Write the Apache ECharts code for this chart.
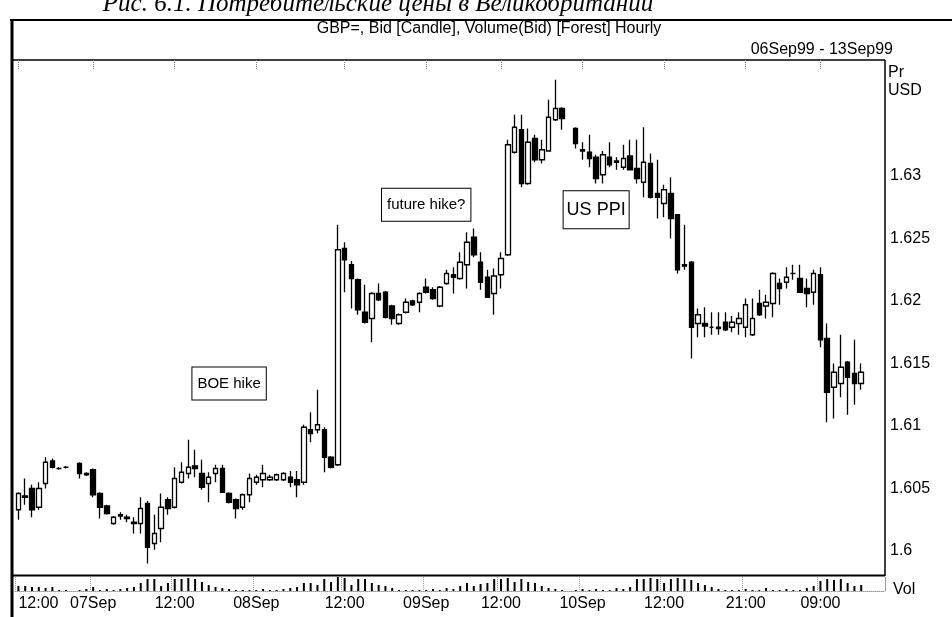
<!DOCTYPE html>
<html>
<head>
<meta charset="utf-8">
<script src="https://cdn.jsdelivr.net/npm/echarts@6/dist/echarts.min.js"></script>
<style>
  html, body { margin: 0; padding: 0; background: #fff; }
  #chart { width: 952px; height: 617px; }
</style>
</head>
<body>
<div id="chart"></div>
<script>
// hourly slots, 06Sep99 13:00 .. 13Sep99 (plus a few empty slots on the right)
var slots = [];
for (var i = 0; i < 128; i++) slots.push(String(i));

var tickIndex  = [0, 11, 23, 35, 48, 60, 71, 83, 95, 107, 118];
var tickLabels = ['12:00', '07Sep', '12:00', '08Sep', '12:00', '09Sep', '12:00', '10Sep', '12:00', '21:00', '09:00'];

// [open, close, low, high]
var ohlc = [
  [1.6033, 1.6046, 1.6025, 1.6047], [1.6043, 1.6044, 1.6037, 1.6058], [1.6050, 1.6033, 1.6027, 1.6053],
  [1.6035, 1.6050, 1.6033, 1.6055], [1.6054, 1.6071, 1.6050, 1.6075], [1.6072, 1.6067, 1.6066, 1.6074],
  [1.6066, 1.6066, 1.6065, 1.6067], [1.6067, 1.6067, 1.6066, 1.6068], '-',
  [1.6070, 1.6062, 1.6058, 1.6071], [1.6062, 1.6061, 1.6060, 1.6063], [1.6065, 1.6045, 1.6043, 1.6066],
  [1.6046, 1.6035, 1.6026, 1.6047], [1.6036, 1.6030, 1.6029, 1.6037], [1.6022, 1.6027, 1.6021, 1.6028],
  [1.6028, 1.6029, 1.6025, 1.6031], [1.6027, 1.6026, 1.6023, 1.6029], [1.6022, 1.6023, 1.6014, 1.6027],
  [1.6022, 1.6034, 1.6014, 1.6043], [1.6038, 1.6003, 1.5990, 1.6040], [1.6006, 1.6014, 1.6001, 1.6029],
  [1.6018, 1.6035, 1.6007, 1.6046], [1.6041, 1.6034, 1.6029, 1.6043], [1.6035, 1.6058, 1.6034, 1.6067],
  [1.6055, 1.6063, 1.6054, 1.6071], [1.6062, 1.6067, 1.6058, 1.6089], [1.6068, 1.6066, 1.6059, 1.6081],
  [1.6062, 1.6051, 1.6049, 1.6073], [1.6054, 1.6059, 1.6039, 1.6063], [1.6062, 1.6066, 1.6055, 1.6069],
  [1.6066, 1.6047, 1.6047, 1.6069], [1.6046, 1.6039, 1.6038, 1.6047], [1.6041, 1.6034, 1.6026, 1.6042],
  [1.6035, 1.6045, 1.6033, 1.6046], [1.6045, 1.6058, 1.6039, 1.6062], [1.6055, 1.6059, 1.6053, 1.6061],
  [1.6057, 1.6062, 1.6051, 1.6069], [1.6057, 1.6059, 1.6056, 1.6061], [1.6057, 1.6061, 1.6056, 1.6062],
  [1.6057, 1.6062, 1.6056, 1.6063], [1.6059, 1.6055, 1.6051, 1.6064], [1.6057, 1.6053, 1.6043, 1.6064],
  [1.6055, 1.6099, 1.6053, 1.6101], [1.6097, 1.6094, 1.6087, 1.6111], [1.6097, 1.6101, 1.6094, 1.6129],
  [1.6097, 1.6075, 1.6063, 1.6099], [1.6075, 1.6067, 1.6066, 1.6076], [1.6069, 1.6241, 1.6068, 1.6261],
  [1.6242, 1.6233, 1.6207, 1.6247], [1.6229, 1.6218, 1.6194, 1.6232], [1.6217, 1.6193, 1.6189, 1.6218],
  [1.6191, 1.6183, 1.6182, 1.6213], [1.6186, 1.6206, 1.6167, 1.6207], [1.6206, 1.6201, 1.6200, 1.6214],
  [1.6207, 1.6187, 1.6186, 1.6208], [1.6196, 1.6186, 1.6181, 1.6197], [1.6182, 1.6189, 1.6181, 1.6190],
  [1.6191, 1.6199, 1.6190, 1.6202], [1.6200, 1.6197, 1.6196, 1.6201], [1.6199, 1.6206, 1.6191, 1.6207],
  [1.6211, 1.6207, 1.6206, 1.6218], [1.6209, 1.6202, 1.6201, 1.6211], [1.6196, 1.6211, 1.6195, 1.6212],
  [1.6214, 1.6222, 1.6213, 1.6225], [1.6221, 1.6219, 1.6206, 1.6227], [1.6218, 1.6231, 1.6217, 1.6239],
  [1.6229, 1.6247, 1.6210, 1.6255], [1.6251, 1.6237, 1.6235, 1.6258], [1.6231, 1.6215, 1.6209, 1.6239],
  [1.6219, 1.6203, 1.6203, 1.6225], [1.6206, 1.6220, 1.6189, 1.6226], [1.6221, 1.6234, 1.6210, 1.6239],
  [1.6237, 1.6325, 1.6236, 1.6329], [1.6319, 1.6339, 1.6318, 1.6349], [1.6337, 1.6294, 1.6291, 1.6349],
  [1.6294, 1.6327, 1.6293, 1.6338], [1.6330, 1.6313, 1.6311, 1.6333], [1.6313, 1.6321, 1.6310, 1.6329],
  [1.6320, 1.6347, 1.6320, 1.6361], [1.6345, 1.6354, 1.6344, 1.6377], [1.6354, 1.6346, 1.6337, 1.6355],
  '-',
  [1.6338, 1.6326, 1.6322, 1.6339], [1.6321, 1.6320, 1.6313, 1.6327], [1.6319, 1.6314, 1.6307, 1.6333],
  [1.6315, 1.6298, 1.6294, 1.6317], [1.6301, 1.6317, 1.6294, 1.6320], [1.6315, 1.6309, 1.6307, 1.6327],
  [1.6312, 1.6311, 1.6305, 1.6315], [1.6307, 1.6314, 1.6305, 1.6325], [1.6316, 1.6305, 1.6305, 1.6329],
  [1.6306, 1.6298, 1.6294, 1.6329], [1.6295, 1.6311, 1.6283, 1.6339], [1.6310, 1.6283, 1.6282, 1.6318],
  [1.6286, 1.6283, 1.6266, 1.6313], [1.6278, 1.6289, 1.6267, 1.6293], [1.6286, 1.6266, 1.6250, 1.6299],
  [1.6269, 1.6225, 1.6222, 1.6269], [1.6229, 1.6228, 1.6225, 1.6261], [1.6231, 1.6179, 1.6154, 1.6232],
  [1.6182, 1.6189, 1.6171, 1.6194], [1.6182, 1.6180, 1.6171, 1.6195], [1.6179, 1.6179, 1.6173, 1.6191],
  [1.6179, 1.6178, 1.6173, 1.6191], [1.6183, 1.6177, 1.6176, 1.6191], [1.6179, 1.6183, 1.6175, 1.6188],
  [1.6182, 1.6186, 1.6173, 1.6191], [1.6179, 1.6197, 1.6171, 1.6202], [1.6173, 1.6186, 1.6172, 1.6202],
  [1.6198, 1.6189, 1.6188, 1.6209], [1.6196, 1.6199, 1.6186, 1.6205], [1.6198, 1.6222, 1.6187, 1.6223],
  [1.6214, 1.6210, 1.6197, 1.6218], [1.6215, 1.6219, 1.6210, 1.6227], [1.6222, 1.6222, 1.6217, 1.6229],
  [1.6218, 1.6207, 1.6207, 1.6229], [1.6210, 1.6206, 1.6195, 1.6218], [1.6207, 1.6222, 1.6197, 1.6225],
  [1.6221, 1.6169, 1.6163, 1.6227], [1.6170, 1.6127, 1.6103, 1.6182], [1.6131, 1.6143, 1.6106, 1.6150],
  [1.6134, 1.6147, 1.6123, 1.6173], [1.6151, 1.6139, 1.6109, 1.6152], [1.6142, 1.6134, 1.6117, 1.6169],
  [1.6134, 1.6143, 1.6129, 1.6150]
];

var volume = [
  5, 5, 4, 4, 3, 4, 1, 1, 0, 1,
  2, 4, 1, 2, 1, 2, 3, 4, 8, 12,
  12, 5, 8, 12, 12, 13, 12, 9, 6, 4,
  3, 2, 1, 1, 1, 1, 2, 1, 1, 2,
  3, 4, 8, 8, 6, 12, 9, 14, 13, 6,
  12, 12, 8, 6, 5, 3, 1, 1, 1, 1,
  1, 2, 1, 3, 2, 5, 8, 5, 7, 8,
  12, 12, 13, 9, 12, 9, 8, 5, 3, 2,
  1, 0, 1, 2, 1, 2, 1, 1, 3, 2,
  4, 12, 12, 13, 12, 8, 12, 13, 12, 11,
  8, 6, 4, 2, 1, 1, 1, 2, 1, 1,
  3, 1, 1, 2, 1, 1, 3, 5, 10, 12,
  11, 12, 8, 5, 6
];

// annotation boxes: [label, slot, price, fontSize]
var notes = [
  ['BOE hike', 31.2, 1.6134, 15],
  ['future hike?', 59.5, 1.6277, 15],
  ['US PPI', 85.4, 1.6273, 18]
];

var NARROW = "'Liberation Sans Narrow', 'Arial Narrow', 'Liberation Sans', Arial, sans-serif";

function isTick(index) {
  return tickIndex.indexOf(index) >= 0;
}

var myChart = echarts.init(document.getElementById('chart'));

var option = {
  animation: false,
  backgroundColor: '#fff',
  grid: [
    { left: 15, right: 67, top: 60, bottom: 3.5, outerBoundsMode: 'none' },
    { left: 15, right: 67, top: 577, bottom: 26, outerBoundsMode: 'none' }
  ],
  xAxis: [
    {
      type: 'category',
      gridIndex: 0,
      position: 'top',
      data: slots,
      axisLine: { show: false },
      axisLabel: { show: false },
      axisTick: {
        show: true,
        inside: true,
        length: 10,
        alignWithLabel: true,
        interval: isTick,
        lineStyle: { color: '#777', type: 'dotted' }
      },
      splitLine: { show: false }
    },
    {
      type: 'category',
      gridIndex: 1,
      data: slots,
      axisLine: { show: true, lineStyle: { color: '#999', type: 'dotted' } },
      axisTick: { show: false },
      splitLine: {
        show: true,
        interval: isTick,
        lineStyle: { color: '#999', type: 'dotted' }
      },
      axisLabel: {
        show: true,
        interval: isTick,
        margin: 5,
        color: '#000',
        fontFamily: NARROW,
        fontSize: 16,
        alignMinLabel: 'left',
        formatter: function (v, idx) {
          return tickLabels[tickIndex.indexOf(idx)];
        }
      }
    }
  ],
  yAxis: [
    {
      type: 'value',
      gridIndex: 0,
      position: 'right',
      min: 1.595,
      max: 1.63928,
      interval: 0.005,
      axisLine: { show: false },
      axisTick: { show: false },
      splitLine: { show: false },
      axisLabel: {
        margin: 5,
        color: '#000',
        fontFamily: NARROW,
        fontSize: 16,
        showMaxLabel: false,
        formatter: function (v) {
          return (v > 1.5999 && v < 1.6301) ? String(+v.toFixed(3)) : '';
        }
      }
    },
    {
      type: 'value',
      gridIndex: 1,
      position: 'right',
      min: 0,
      max: 14,
      axisLine: { show: true, lineStyle: { color: '#999', type: 'dotted' } },
      axisTick: { show: false },
      axisLabel: { show: false },
      splitLine: { show: false }
    }
  ],
  series: [
    {
      name: 'Bid',
      type: 'candlestick',
      xAxisIndex: 0,
      yAxisIndex: 0,
      barWidth: 5,
      itemStyle: {
        color: '#fff',
        color0: '#000',
        borderColor: '#000',
        borderColor0: '#000',
        borderColorDoji: '#000',
        borderWidth: 1.3
      },
      data: ohlc,
      markPoint: {
        symbol: 'rect',
        symbolSize: 0,
        data: notes.map(function (n) {
          return {
            coord: [n[1], n[2]],
            label: {
              show: true,
              position: 'inside',
              formatter: n[0],
              color: '#000',
              fontFamily: NARROW,
              fontSize: n[3],
              backgroundColor: '#fff',
              borderColor: '#000',
              borderWidth: 1,
              padding: n[3] > 16 ? [10, 3, 9, 3] : [9, 5, 8, 5]
            }
          };
        })
      }
    },
    {
      name: 'Volume',
      type: 'bar',
      xAxisIndex: 1,
      yAxisIndex: 1,
      barWidth: 2,
      itemStyle: { color: '#000' },
      data: volume
    }
  ],
  graphic: [
    {
      type: 'text',
      style: {
        text: 'Рис. 6.1. Потребительские цены в Великобритании',
        x: 378, y: 4,
        align: 'center', verticalAlign: 'middle',
        font: 'italic 25px "Liberation Serif", "DejaVu Serif", serif',
        fill: '#000'
      }
    },
    {
      type: 'text',
      style: {
        text: 'GBP=, Bid [Candle], Volume(Bid) [Forest] Hourly',
        x: 489, y: 29,
        align: 'center', verticalAlign: 'middle',
        font: '16px ' + NARROW,
        fill: '#000'
      }
    },
    {
      type: 'text',
      style: {
        text: '06Sep99 - 13Sep99',
        x: 893, y: 50,
        align: 'right', verticalAlign: 'middle',
        font: '16px ' + NARROW,
        fill: '#000'
      }
    },
    {
      type: 'text',
      style: { text: 'Pr', x: 888, y: 73, align: 'left', verticalAlign: 'middle', font: '16px ' + NARROW, fill: '#000' }
    },
    {
      type: 'text',
      style: { text: 'USD', x: 888, y: 91, align: 'left', verticalAlign: 'middle', font: '16px ' + NARROW, fill: '#000' }
    },
    {
      type: 'text',
      style: { text: 'Vol', x: 893, y: 590, align: 'left', verticalAlign: 'middle', font: '16px ' + NARROW, fill: '#000' }
    },
    // frame
    { type: 'line', shape: { x1: 10, y1: 20, x2: 952, y2: 20 }, style: { stroke: '#000', lineWidth: 2 } },
    { type: 'line', shape: { x1: 12, y1: 20, x2: 12, y2: 617 }, style: { stroke: '#000', lineWidth: 3 } },
    { type: 'line', shape: { x1: 12, y1: 60, x2: 885, y2: 60 }, style: { stroke: '#000', lineWidth: 1.5 } },
    { type: 'line', shape: { x1: 885, y1: 60, x2: 885, y2: 576 }, style: { stroke: '#000', lineWidth: 1.5 } },
    { type: 'line', shape: { x1: 12, y1: 575.5, x2: 885, y2: 575.5 }, style: { stroke: '#000', lineWidth: 2 } }
  ]
};

myChart.setOption(option);
</script>
</body>
</html>
